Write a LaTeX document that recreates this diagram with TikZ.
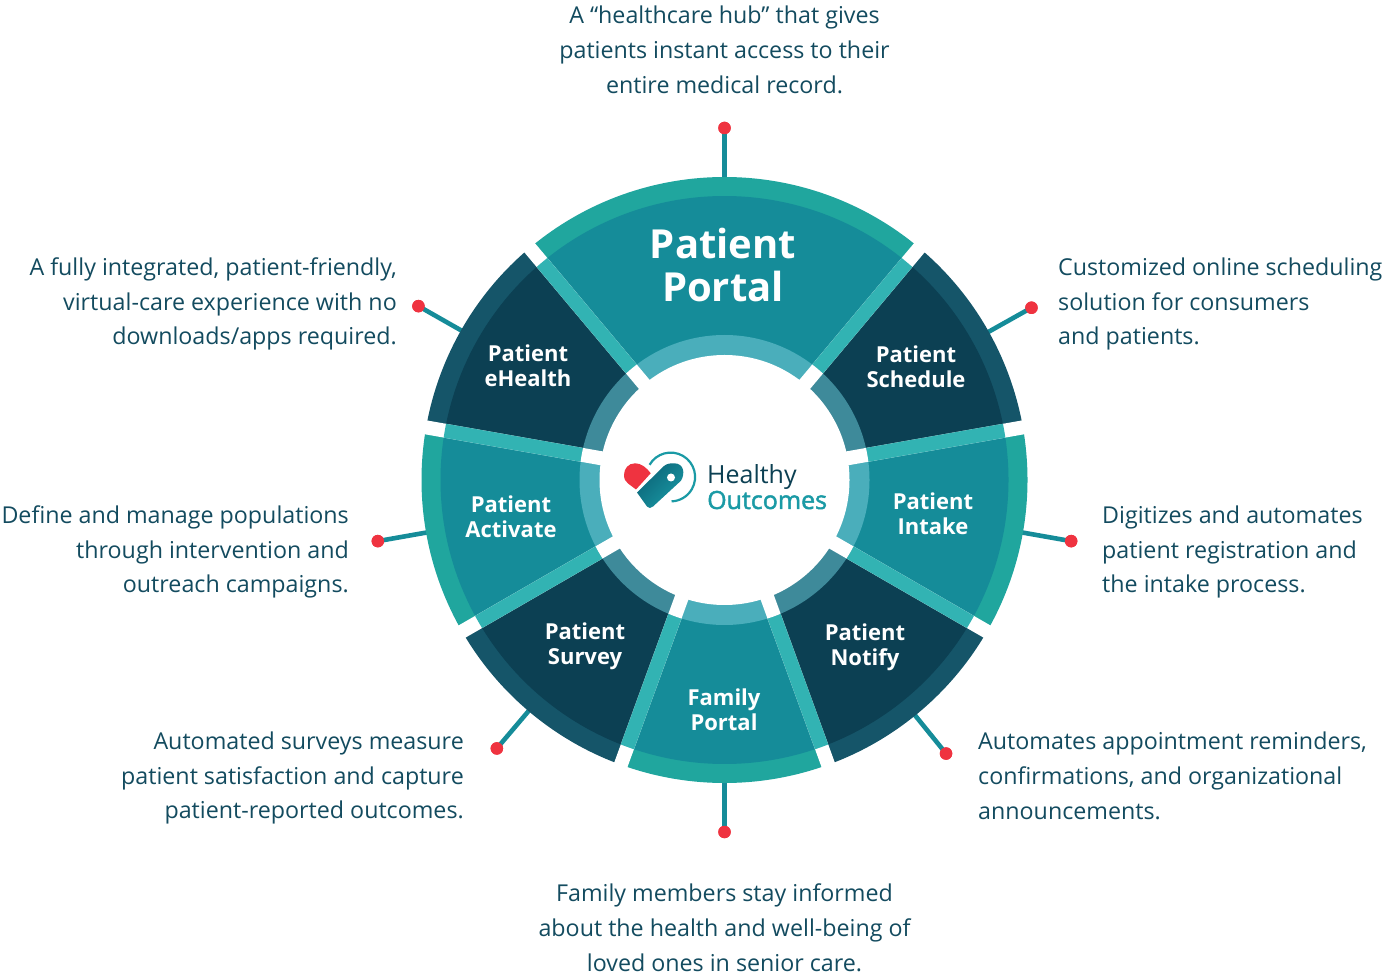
\documentclass[tikz,border=0pt]{standalone}
\usepackage{fontspec}
\setmainfont{Open Sans}
\newfontfamily\logofont{Open Sans}
\newfontfamily\logobold[FakeBold=1.8]{Open Sans}
\definecolor{bandteal}{HTML}{20A69E}
\definecolor{mainteal}{HTML}{158C99}
\definecolor{banddark}{HTML}{155569}
\definecolor{maindark}{HTML}{0C4053}
\definecolor{striplight}{HTML}{32B3B3}
\definecolor{ringteal}{HTML}{4AAEBB}
\definecolor{ringdark}{HTML}{3E8A9A}
\definecolor{bodytext}{HTML}{134B5F}
\definecolor{dotred}{HTML}{EF3340}
\definecolor{logoteal}{HTML}{1A9AA5}
\definecolor{logodeep}{HTML}{0B6478}
\tikzset{
  desc/.style={font=\fontsize{23.25}{34.8}\selectfont,text=bodytext,inner sep=0pt},
  seglabel/.style={font=\fontsize{22}{25}\selectfont\bfseries,text=white,align=center,inner sep=0pt},
  reddot/.style={circle,fill=dotred,minimum size=12.5pt,inner sep=0pt},
  conn/.style={draw=mainteal,line width=4.6pt},
}
\begin{document}
\begin{tikzpicture}[x=1pt,y=1pt]
\useasboundingbox (0,0) rectangle (1384,975);
\begin{scope}[shift={(724.5,495)}]
  % connectors
  \foreach \n/\a in {a/90,b/29.3,c/-10,d/-51,e/-90,f/-130.3,g/-170,h/150.4}{
    \coordinate (ring-\n) at (\a:302);
    \node[reddot] (dot-\n) at (\a:352) {};
    \draw[conn] (ring-\n) -- (dot-\n.center);
    \node[reddot] at (\a:352) {};
  }
  % sectors: band and main
  \foreach \s/\e/\b/\m in {
    50/130/bandteal/mainteal,
    10/50/banddark/maindark,
    -30/10/bandteal/mainteal,
    -70/-30/banddark/maindark,
    -110/-70/bandteal/mainteal,
    -150/-110/banddark/maindark,
    -190/-150/bandteal/mainteal,
    -230/-190/banddark/maindark}{
    \fill[\b] (0,0) -- (\s:303) arc[start angle=\s,end angle=\e,radius=303] -- cycle;
    \fill[\m] (0,0) -- (\s:284) arc[start angle=\s,end angle=\e,radius=284] -- cycle;
  }
  % white gaps through the outer band
  \foreach \a in {50,10,-30,-70,-110,-150,-190,-230}{
    \draw[white,line width=14pt] (0,0) -- (\a:312);
  }
  % light strips inside the band
  \begin{scope}
    \clip (0,0) circle[radius=284];
    \foreach \a in {50,10,-30,-70,-110,-150,-190,-230}{
      \draw[striplight,line width=14pt] (0,0) -- (\a:312);
    }
  \end{scope}
  % inner ring
  \foreach \s/\e/\r in {
    50/130/ringteal,
    10/50/ringdark,
    -30/10/ringteal,
    -70/-30/ringdark,
    -110/-70/ringteal,
    -150/-110/ringdark,
    -190/-150/ringteal,
    -230/-190/ringdark}{
    \fill[\r] (0,0) -- (\s:145) arc[start angle=\s,end angle=\e,radius=145] -- cycle;
  }
  \begin{scope}
    \clip (0,0) circle[radius=145];
    \foreach \a in {50,10,-30,-70,-110,-150,-190,-230}{
      \draw[white,line width=14pt] (0,0) -- (\a:150);
    }
  \end{scope}
  \fill[white] (0,0) circle[radius=125];
\end{scope}
% segment labels
\node[seglabel,font=\fontsize{40}{43}\selectfont\bfseries] (portal) at (723,710) {Patient\\Portal};
\node[seglabel] (schedule) at (916,608) {Patient\\Schedule};
\node[seglabel] (intake) at (933,461) {Patient\\Intake};
\node[seglabel] (notify) at (865,328) {Patient\\Notify};
\node[seglabel] (family) at (724,265) {Family\\Portal};
\node[seglabel] (survey) at (585,329) {Patient\\Survey};
\node[seglabel] (activate) at (511,458) {Patient\\Activate};
\node[seglabel] (ehealth) at (528,609) {Patient\\eHealth};
% descriptions
\node[desc,align=center] (t-a) at (724.5,925) {A “healthcare hub” that gives\\patients instant access to their\\entire medical record.};
\node[desc,align=left,anchor=west] (t-b) at (1058,671) {Customized online scheduling\\solution for consumers\\and patients.};
\node[desc,align=left,anchor=west] (t-c) at (1102,423) {Digitizes and automates\\patient registration and\\the intake process.};
\node[desc,align=left,anchor=west] (t-d) at (978,199) {Automates appointment reminders,\\confirmations, and organizational\\announcements.};
\node[desc,align=center] (t-e) at (724.5,47) {Family members stay informed\\about the health and well-being of\\loved ones in senior care.};
\node[desc,align=right,anchor=east] (t-f) at (464,197) {Automated surveys measure\\patient satisfaction and capture\\patient-reported outcomes.};
\node[desc,align=right,anchor=east] (t-g) at (349,423) {Define and manage populations\\through intervention and\\outreach campaigns.};
\node[desc,align=right,anchor=east] (t-h) at (397,671) {A fully integrated, patient-friendly,\\virtual-care experience with no\\downloads/apps required.};
% logo
\draw[logoteal,line width=2.2pt] (670.7,498) ++(150:24.4) arc[start angle=150,end angle=-88,radius=24.4];
\fill[dotred] (636,485.5) -- (650.7,501.7) .. controls (646,508) and (641,511.7) .. (635,511.7) .. controls (628.5,511.7) and (624,506.5) .. (624,500) .. controls (624,496) and (625.5,493.5) .. (628,491.5) -- cycle;
\shade[left color=logodeep,right color=logoteal,shading angle=45]
  (637,482.5) -- (647,468.5) .. controls (648.5,466.5) and (651,466.5) .. (653,468.5) -- (681,494.3) .. controls (685,501) and (684.5,511.7) .. (674,511.7) .. controls (670,511.7) and (667,511.5) .. (664,509) -- cycle;
\fill[white] (671,497.5) circle[radius=4];
\node[inner sep=0pt,anchor=base west,font=\fontsize{25}{25}\logofont,text=maindark] (logo-a) at (707,491) {Healthy};
\node[inner sep=0pt,anchor=base west,font=\fontsize{25}{25}\logobold,text=logoteal] (logo-b) at (707,466) {Outcomes};
\end{tikzpicture}
\end{document}
